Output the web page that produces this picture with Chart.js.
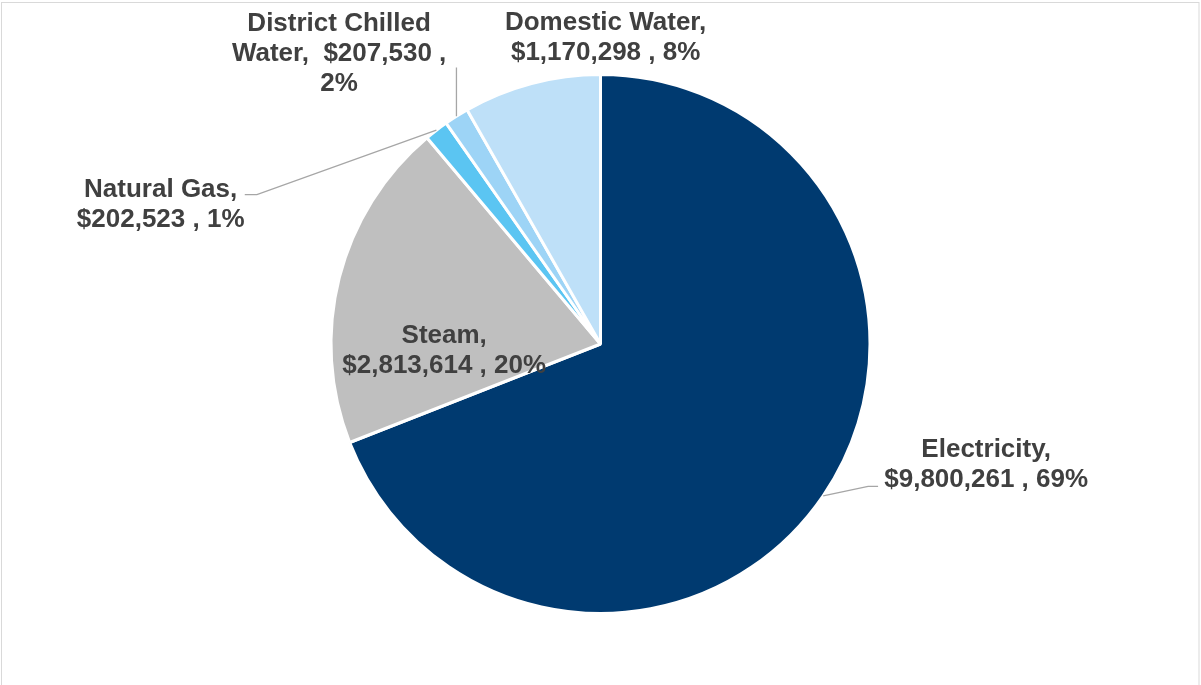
<!DOCTYPE html>
<html>
<head>
<meta charset="utf-8">
<script src="https://cdn.jsdelivr.net/npm/chart.js@4/dist/chart.umd.min.js"></script>
<style>
  html, body { margin: 0; padding: 0; background: #fff; }
  #wrap { width: 1201px; height: 685px; position: relative; }
</style>
</head>
<body>
<div id="wrap"><canvas id="pie" width="1201" height="685"></canvas></div>
<script>
const categories = ["Electricity", "Steam", "Natural Gas", "District Chilled Water", "Domestic Water"];
const costs = [9800261, 2813614, 202523, 207530, 1170298];
const percents = [69, 20, 1, 2, 8];
const colors = ["#003A70", "#BFBFBF", "#5BC5F2", "#9DD4F6", "#BEE0F8"];

// label text lines for each slice
const labelLines = [
  ["Electricity,", "$9,800,261 , 69%"],
  ["Steam,", "$2,813,614 , 20%"],
  ["Natural Gas,", "$202,523 , 1%"],
  ["District Chilled", "Water,  $207,530 ,", "2%"],
  ["Domestic Water,", "$1,170,298 , 8%"],
];

// label placement, in pie radius units from the centre (first baseline)
const labelPos = [
  { x: 1.431, y: 0.420, leader: [[0.993, 0.528], [1.030, 0.528]] },
  { x: -0.580, y: -0.004 },
  { x: -1.632, y: -0.546, leader: [[-1.275, -0.554], [-1.320, -0.554]] },
  { x: -0.970, y: -1.160, leader: [[null, -1.026]] },
  { x: 0.019, y: -1.164 },
];

const frame = {
  id: "frame",
  beforeDraw(chart) {
    const ctx = chart.ctx;
    ctx.save();
    ctx.strokeStyle = "#D9D9D9";
    ctx.lineWidth = 1;
    ctx.strokeRect(1.5, 2.5, 1197.5, 700);
    ctx.restore();
  },
};

const labels = {
  id: "labels",
  afterDatasetsDraw(chart) {
    const ctx = chart.ctx;
    const arcs = chart.getDatasetMeta(0).data;
    ctx.save();
    arcs.forEach((arc, i) => {
      const { x: cx, y: cy, outerRadius: r, startAngle, endAngle } = arc.getProps(["x", "y", "outerRadius", "startAngle", "endAngle"], true);
      const pos = labelPos[i];
      const mid = (startAngle + endAngle) / 2;
      if (pos.leader) {
        const ex = cx + Math.cos(mid) * r;
        const ey = cy + Math.sin(mid) * r;
        ctx.strokeStyle = "#A6A6A6";
        ctx.lineWidth = 1.3;
        ctx.beginPath();
        ctx.moveTo(ex, ey);
        pos.leader.forEach(([lx, ly]) => {
          ctx.lineTo(lx === null ? ex : cx + lx * r, cy + ly * r);
        });
        ctx.stroke();
      }
      ctx.fillStyle = "#404040";
      ctx.font = "bold 26px 'Liberation Sans', Arial, sans-serif";
      ctx.textAlign = "center";
      ctx.textBaseline = "alphabetic";
      const tx = cx + pos.x * r;
      const ty = cy + pos.y * r;
      labelLines[i].forEach((line, j) => {
        ctx.fillText(line, tx, ty + j * 30);
      });
    });
    ctx.restore();
  },
};

new Chart(document.getElementById("pie"), {
  type: "pie",
  data: {
    labels: categories,
    datasets: [{
      data: costs,
      backgroundColor: colors,
      borderColor: "#FFFFFF",
      borderWidth: 3,
    }],
  },
  options: {
    responsive: false,
    animation: false,
    layout: { padding: { top: 73, bottom: 70, left: 0, right: 0 } },
    plugins: {
      legend: { display: false },
      tooltip: { enabled: false },
    },
  },
  plugins: [frame, labels],
});
</script>
</body>
</html>
